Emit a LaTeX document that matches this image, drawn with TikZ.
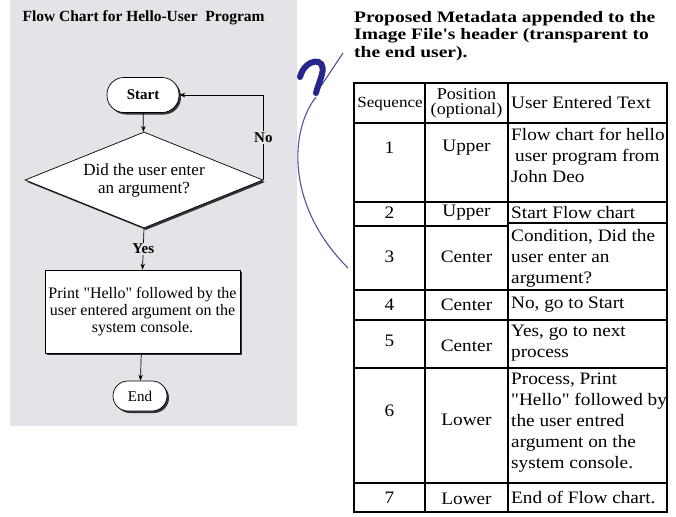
\documentclass[tikz,border=0pt]{standalone}
\usepackage{fontspec}
\setmainfont{Liberation Serif}[Ligatures=TeXOff]
\newfontfamily\tabfont[FakeStretch=1.1]{Liberation Serif}
\newfontfamily\headfont[FakeStretch=1.22]{Liberation Serif}
\usetikzlibrary{shapes.geometric,shadows,arrows.meta}
\definecolor{panelgray}{RGB}{229,227,232}
\definecolor{inkblue}{RGB}{38,38,140}
\tikzset{
    flow/.style={-{Stealth[length=6pt,width=4.5pt]},line width=0.7pt},
    shade box/.style={drop shadow={shadow xshift=2pt,shadow yshift=-2pt,fill=black!80,opacity=1}},
    term/.style={draw,fill=white,line width=0.7pt,inner sep=0pt,shade box,font=\fontsize{15}{17}\selectfont},
    decide/.style={diamond,aspect=2.48,draw,fill=white,line width=0.7pt,inner sep=0pt,minimum width=238pt,minimum height=96pt,
        shade box,align=center,font=\fontsize{17}{18}\selectfont},
    procbox/.style={draw,fill=white,line width=0.7pt,minimum width=195pt,minimum height=83pt,shade box,
        align=center,font=\fontsize{16}{17}\selectfont},
    tag/.style={fill=panelgray,inner sep=1.5pt,font=\fontsize{15}{17}\selectfont\bfseries},
    cell/.style={inner sep=0pt,font=\tabfont\fontsize{17.5}{21}\selectfont},
    textcell/.style={cell,align=left},
}

\begin{document}
\begin{tikzpicture}[x=1pt,y=-1pt]
\useasboundingbox (0,0) rectangle (676,516);
\fill[white] (0,0) rectangle (676,516);
% flow chart panel
\fill[panelgray] (10,0) rectangle (297,426);
\node[anchor=west,font=\fontsize{15.5}{17}\selectfont\bfseries] (title) at (19,18) {Flow Chart for Hello-User\ \ Program};

\node[term,rounded corners=17pt,minimum width=72pt,minimum height=35pt,font=\fontsize{15}{17}\selectfont\bfseries] (start) at (143,95) {Start};
\node[decide] (ask) at (144,180) {Did the user enter\\an argument?};
\node[procbox] (print) at (142.5,311.5) {Print "Hello" followed by the\\user entered argument on the\\system console.};
\node[term,rounded corners=15pt,minimum width=54pt,minimum height=30pt] (stop) at (140,396) {End};

\draw[flow] (start) -- (ask);
\draw[flow] (ask.east) |- (start.east) node[tag,pos=0.25] {No};
\draw[flow] (ask.south) -- (print.north) node[tag,midway] {Yes};
\draw[flow] (print) -- (stop);

% hand drawn mark
\draw[inkblue!85,line width=1pt] (343,53) -- (321,86);
\draw[inkblue,line width=6pt,line cap=round] (300,77) .. controls (305,58) and (327,56) .. (322,74) .. controls (320,82) and (317,88) .. (316,93);
\draw[inkblue!80,line width=1.1pt] (316,97) .. controls (290,130) and (285,205) .. (348,268);

% metadata table
\node[anchor=north west,align=left,inner sep=0pt,font=\headfont\bfseries\fontsize{16}{17.5}\selectfont] (head) at (354,11)
    {Proposed Metadata appended to the\\Image File's header (transparent to\\the end user).};

\draw[line width=1.3pt] (354,123) -- (667,123);
\draw[line width=1.3pt] (354,202) -- (667,202);
\draw[line width=1.3pt] (354,226) -- (508,226);
\draw[line width=1.3pt] (508,223) -- (667,223);
\foreach \r in {290,320,368,483}
    \draw[line width=1.3pt] (354,\r) -- (667,\r);
\draw[line width=1.3pt] (425,83) -- (425,512);
\draw[line width=1.3pt] (508,83) -- (508,512);
\draw[line width=2.4pt] (354,83) rectangle (667,512);

\node[cell,font=\tabfont\fontsize{15.5}{15}\selectfont] (hseq) at (390,104) {Sequence};
\node[cell,align=center,font=\tabfont\fontsize{16.5}{15}\selectfont] (hpos) at (466.5,103) {Position\\(optional)};
\node[cell,anchor=west] (htxt) at (511,103) {User Entered Text};

\node[cell] (s1) at (389.5,148) {1};
\node[cell] (p1) at (466.5,148) {Upper};
\node[textcell,anchor=north west] (t1) at (511,128) {Flow chart for hello\\\hspace*{4pt}user program from\\John Deo};
\node[cell] (s2) at (389.5,213) {2};
\node[cell] (p2) at (466.5,213) {Upper};
\node[cell,anchor=west] (t2) at (511,213) {Start Flow chart};
\node[cell] (s3) at (389.5,257) {3};
\node[cell] (p3) at (466.5,257) {Center};
\node[textcell,anchor=north west] (t3) at (511,229) {Condition, Did the\\user enter an\\argument?};
\node[cell] (s4) at (389.5,305) {4};
\node[cell] (p4) at (466.5,305) {Center};
\node[cell,anchor=west] (t4) at (511,305) {No, go to Start};
\node[cell] (s5) at (389.5,341) {5};
\node[cell] (p5) at (466.5,346) {Center};
\node[textcell,anchor=north west] (t5) at (511,325) {Yes, go to next\\process};
\node[cell] (s6) at (389.5,411) {6};
\node[cell] (p6) at (466.5,420) {Lower};
\node[textcell,anchor=north west] (t6) at (511,373) {Process, Print\\"Hello" followed by\\the user entred\\argument on the\\system console.};
\node[cell] (s7) at (389.5,498) {7};
\node[cell] (p7) at (466.5,499) {Lower};
\node[cell,anchor=west] (t7) at (511,497) {End of Flow chart.};
\end{tikzpicture}
\end{document}
